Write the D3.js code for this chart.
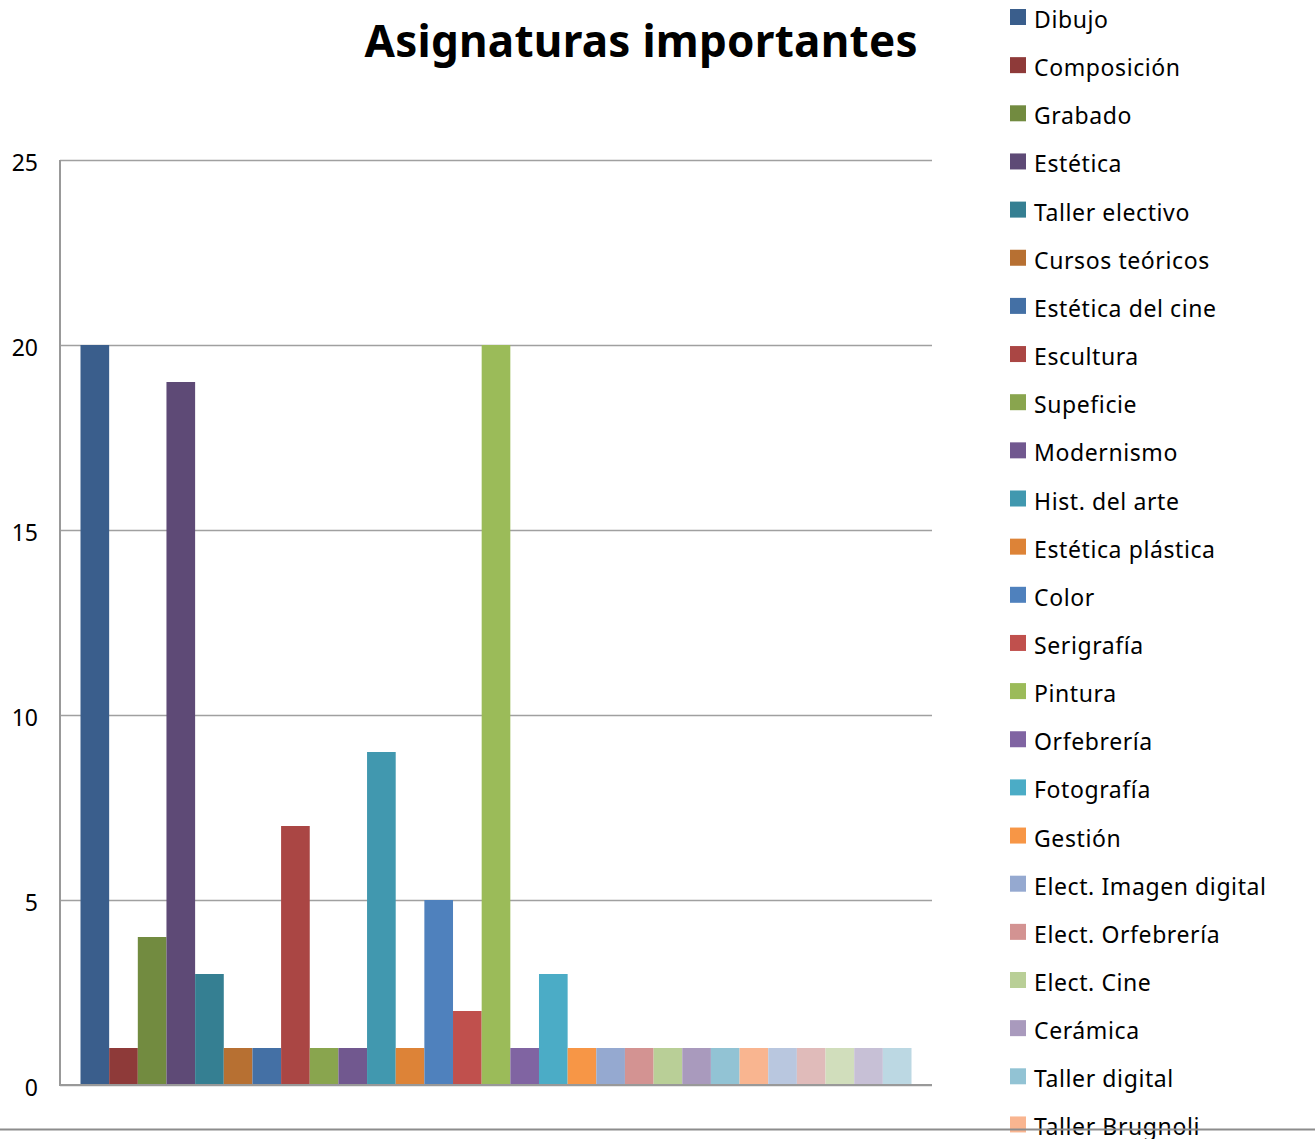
<!DOCTYPE html>
<html>
<head>
<meta charset="utf-8">
<script src="https://cdn.jsdelivr.net/npm/d3@7"></script>
<style>
	body { margin: 0; background: white; overflow: hidden; }
	text { font-family: "Noto Sans", "DejaVu Sans", sans-serif; fill: black; }
</style>
</head>
<body>
<div id="chart"></div>
<script>

// Data. One series per subject, all in a single category.
let subjects = [
	"Dibujo", "Composición", "Grabado", "Estética", "Taller electivo",
	"Cursos teóricos", "Estética del cine", "Escultura", "Supeficie", "Modernismo",
	"Hist. del arte", "Estética plástica", "Color", "Serigrafía", "Pintura",
	"Orfebrería", "Fotografía", "Gestión", "Elect. Imagen digital", "Elect. Orfebrería",
	"Elect. Cine", "Cerámica", "Taller digital", "Taller Brugnoli",
	// The last legend entries fall below the visible area.
	"Otros 1", "Otros 2", "Otros 3", "Otros 4", "Otros 5"
];

let counts = [
	20, 1, 4, 19, 3,
	1, 1, 7, 1, 1,
	9, 1, 5, 2, 20,
	1, 3, 1, 1, 1,
	1, 1, 1, 1,
	1, 1, 1, 1, 1
];

let colors = [
	"#3a5e8c", "#8e3a39", "#728b40", "#5e4a76", "#357f92",
	"#b77032", "#4470a5", "#aa4644", "#89a54e", "#71588f",
	"#4198af", "#dd8337", "#4f81bd", "#c0504d", "#9bbb59",
	"#8064a2", "#4bacc6", "#f79646", "#95a9d0", "#d39392",
	"#b9cf97", "#a99abd", "#92c3d4", "#f9b590",
	"#b9c7df", "#e0bbba", "#d1debc", "#c7c0d6", "#bcd8e3"
];

let yTicks = [0, 5, 10, 15, 20, 25];

let title = "Asignaturas importantes";


// Layout.
let width = 1315, height = 1139;
let plot = {left: 60, right: 932, top: 160, bottom: 1085};
let barGap = 20.5; // empty space at both ends of the category


let svg = d3.select("#chart")
  .append("svg")
	.attr("width", width)
	.attr("height", height);


let y = d3.scaleLinear()
  .domain([0, 25])
  .range([plot.bottom, plot.top]);

let x = d3.scaleBand()
  .domain(subjects)
  .range([plot.left + barGap, plot.right - barGap])
  .padding(0);


// Gridlines and tick labels.
let yAxis = d3.axisLeft(y)
  .tickValues(yTicks)
  .tickSize(-(plot.right - plot.left))
  .tickPadding(22);

let gy = svg.append("g")
  .attr("transform", `translate(${plot.left},0)`)
  .call(yAxis);

gy.select(".domain").remove();
gy.selectAll(".tick line")
  .attr("stroke", "#a0a0a0")
  .attr("stroke-width", 1.5);
gy.selectAll(".tick text")
  .attr("font-size", 23)
  .attr("font-family", "Noto Sans, sans-serif")
  .attr("fill", "black")
  .attr("y", 3);


// Bars.
svg.append("g")
  .selectAll("rect")
  .data(subjects)
  .enter()
  .append("rect")
	.attr("x", d=>x(d))
	.attr("width", x.bandwidth())
	.attr("y", (d,i)=>y(counts[i]))
	.attr("height", (d,i)=>y(0) - y(counts[i]))
	.attr("fill", (d,i)=>colors[i]);


// Axis lines.
svg.append("line")
  .attr("x1", plot.left).attr("x2", plot.left)
  .attr("y1", plot.top).attr("y2", plot.bottom + 1)
  .attr("stroke", "#999999")
  .attr("stroke-width", 2);

svg.append("line")
  .attr("x1", plot.left).attr("x2", plot.right)
  .attr("y1", plot.bottom).attr("y2", plot.bottom)
  .attr("stroke", "#999999")
  .attr("stroke-width", 2);


// Title.
svg.append("text")
  .attr("x", 641)
  .attr("y", 57)
  .attr("text-anchor", "middle")
  .attr("font-size", 44)
  .attr("font-weight", "bold")
  .attr("textLength", 553)
  .attr("lengthAdjust", "spacing")
  .text(title);


// Legend, one row per subject.
let rowStep = 48.15;
let legend = svg.append("g")
  .attr("transform", "translate(1010,0)");

let rows = legend.selectAll("g")
  .data(subjects)
  .enter()
  .append("g")
	.attr("transform", (d,i)=>`translate(0,${28 + i*rowStep})`);

rows.append("rect")
  .attr("x", 0)
  .attr("y", -19)
  .attr("width", 16)
  .attr("height", 16)
  .attr("fill", (d,i)=>colors[i]);

rows.append("text")
  .attr("x", 24)
  .attr("y", 0)
  .attr("font-size", 23)
  .attr("letter-spacing", 0.6)
  .text(d=>d);


// Outer line across the bottom of the picture.
svg.append("line")
  .attr("x1", 0).attr("x2", width)
  .attr("y1", 1129.5).attr("y2", 1129.5)
  .attr("stroke", "#8c8c8c")
  .attr("stroke-width", 2);

</script>
</body>
</html>
